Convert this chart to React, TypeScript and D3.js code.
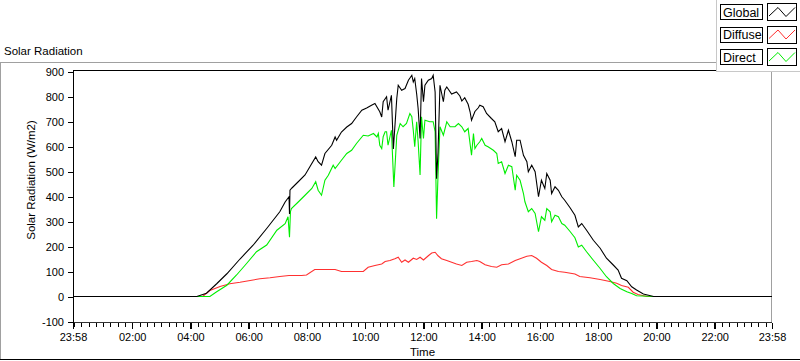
import React, { useEffect, useRef } from "react";
import * as d3 from "d3";

// ---- data ----
const yTicks = [-100, 0, 100, 200, 300, 400, 500, 600, 700, 800, 900];
const xMajorTicks = ["23:58", "02:00", "04:00", "06:00", "08:00", "10:00", "12:00", "14:00", "16:00", "18:00", "20:00", "22:00", "23:58"];
const seriesNames = ["Global", "Diffuse", "Direct"];

const globalData: [string, number][] = [
  ["00:00", 0], ["04:13", 0], ["04:33", 13], ["04:54", 51], ["05:15", 91], ["05:42", 150], ["06:09", 205],
  ["06:37", 272], ["07:04", 339], ["07:15", 378], ["07:23", 399], ["07:24", 330], ["07:25", 425], ["07:29", 434],
  ["07:42", 459], ["07:56", 486], ["08:06", 519], ["08:18", 558], ["08:23", 539], ["08:30", 525], ["08:37", 572],
  ["08:51", 605], ["08:58", 638], ["09:01", 625], ["09:11", 658], ["09:22", 678], ["09:32", 692], ["09:42", 718],
  ["09:53", 745], ["10:03", 754], ["10:13", 765], ["10:20", 772], ["10:30", 739], ["10:34", 718], ["10:37", 779],
  ["10:44", 799], ["10:47", 745], ["10:54", 805], ["10:58", 590], ["11:05", 792], ["11:08", 845], ["11:15", 825],
  ["11:22", 832], ["11:29", 865], ["11:36", 885], ["11:39", 858], ["11:42", 872], ["11:46", 810], ["11:49", 752],
  ["11:53", 632], ["11:56", 872], ["12:00", 779], ["12:03", 845], ["12:10", 865], ["12:17", 872], ["12:20", 885],
  ["12:24", 818], ["12:27", 471], ["12:30", 577], ["12:34", 845], ["12:41", 779], ["12:44", 825], ["12:48", 838],
  ["12:58", 810], ["13:08", 818], ["13:15", 802], ["13:19", 782], ["13:25", 795], ["13:32", 769], ["13:36", 739],
  ["13:39", 705], ["13:46", 740], ["13:53", 755], ["13:56", 765], ["14:03", 759], ["14:10", 732], ["14:20", 712],
  ["14:27", 699], ["14:34", 659], ["14:41", 672], ["14:48", 619], ["14:55", 665], ["15:02", 619], ["15:09", 559],
  ["15:12", 625], ["15:19", 625], ["15:26", 565], ["15:33", 539], ["15:36", 499], ["15:43", 525], ["15:50", 499],
  ["15:57", 399], ["16:03", 465], ["16:10", 432], ["16:14", 492], ["16:21", 465], ["16:24", 412], ["16:31", 439],
  ["16:38", 425], ["16:45", 399], ["16:51", 385], ["17:02", 355], ["17:12", 325], ["17:19", 278], ["17:26", 292],
  ["17:36", 265], ["17:50", 225], ["18:04", 193], ["18:17", 153], ["18:31", 126], ["18:41", 106], ["18:48", 73],
  ["18:59", 63], ["19:09", 39], ["19:19", 26], ["19:33", 10], ["19:54", 0], ["23:58", 0],
];

const diffuseData: [string, number][] = [
  ["00:00", 0], ["04:25", 0], ["04:40", 24], ["05:01", 40], ["05:21", 51], ["05:42", 57], ["06:03", 64],
  ["06:23", 71], ["06:44", 75], ["07:04", 80], ["07:23", 84], ["07:49", 84], ["07:59", 86], ["08:16", 108],
  ["08:58", 108], ["09:11", 100], ["09:32", 100], ["09:56", 100], ["10:06", 117], ["10:20", 124], ["10:34", 130],
  ["10:41", 140], ["10:51", 144], ["11:01", 151], ["11:08", 157], ["11:15", 137], ["11:22", 146], ["11:29", 137],
  ["11:39", 153], ["11:46", 148], ["11:53", 157], ["12:00", 146], ["12:10", 163], ["12:17", 174], ["12:24", 177],
  ["12:30", 163], ["12:37", 151], ["12:48", 144], ["12:58", 137], ["13:08", 130], ["13:19", 124], ["13:29", 137],
  ["13:39", 140], ["13:50", 144], ["13:56", 140], ["14:07", 127], ["14:20", 120], ["14:31", 117], ["14:41", 127],
  ["14:55", 130], ["15:09", 144], ["15:19", 151], ["15:33", 161], ["15:43", 164], ["15:53", 153], ["16:03", 137],
  ["16:14", 124], ["16:24", 108], ["16:38", 100], ["16:51", 97], ["17:12", 90], ["17:22", 80], ["17:43", 75],
  ["18:04", 68], ["18:24", 60], ["18:38", 53], ["18:48", 44], ["19:02", 37], ["19:12", 17], ["19:22", 8],
  ["19:40", 0], ["23:58", 0],
];

const directData: [string, number][] = [
  ["00:00", 0], ["04:40", 0], ["04:54", 19], ["05:15", 45], ["05:35", 86], ["05:56", 133], ["06:16", 179],
  ["06:37", 206], ["06:58", 265], ["07:15", 291], ["07:21", 319], ["07:24", 237], ["07:26", 340], ["07:28", 352],
  ["07:42", 378], ["07:56", 405], ["08:10", 432], ["08:18", 459], ["08:23", 425], ["08:30", 405], ["08:37", 465],
  ["08:44", 485], ["08:54", 525], ["08:58", 512], ["09:11", 545], ["09:22", 572], ["09:32", 585], ["09:42", 612],
  ["09:56", 645], ["10:06", 642], ["10:17", 652], ["10:24", 638], ["10:27", 652], ["10:30", 605], ["10:34", 592],
  ["10:37", 639], ["10:41", 659], ["10:44", 659], ["10:47", 605], ["10:54", 665], ["10:59", 438], ["11:05", 645],
  ["11:12", 692], ["11:18", 679], ["11:25", 692], ["11:32", 732], ["11:36", 719], ["11:39", 665], ["11:42", 599],
  ["11:46", 699], ["11:49", 619], ["11:53", 486], ["11:56", 719], ["12:00", 632], ["12:03", 705], ["12:13", 699],
  ["12:20", 699], ["12:24", 659], ["12:27", 311], ["12:30", 486], ["12:34", 679], ["12:41", 645], ["12:48", 699],
  ["12:55", 679], ["13:05", 679], ["13:12", 692], ["13:19", 679], ["13:25", 659], ["13:32", 672], ["13:39", 565],
  ["13:43", 652], ["13:46", 592], ["13:50", 605], ["13:53", 612], ["13:56", 619], ["14:00", 632], ["14:07", 605],
  ["14:13", 599], ["14:24", 585], ["14:31", 572], ["14:34", 532], ["14:41", 539], ["14:48", 492], ["14:55", 525],
  ["15:02", 519], ["15:09", 425], ["15:12", 485], ["15:19", 465], ["15:26", 412], ["15:29", 379], ["15:36", 339],
  ["15:43", 352], ["15:50", 332], ["15:57", 259], ["16:03", 319], ["16:10", 305], ["16:14", 352], ["16:21", 339],
  ["16:24", 299], ["16:31", 325], ["16:38", 319], ["16:45", 292], ["16:51", 285], ["17:02", 260], ["17:12", 235],
  ["17:19", 198], ["17:26", 205], ["17:36", 179], ["17:50", 145], ["18:04", 112], ["18:17", 79], ["18:31", 52],
  ["18:45", 32], ["18:59", 19], ["19:09", 12], ["19:19", 3], ["19:54", 0], ["23:58", 0],
];

const colors = { Global: "#000000", Diffuse: "#ff3030", Direct: "#00ee00" };

// ---- helpers ----
const START = -2; // 23:58 of the previous day, in minutes from midnight
const END = 23 * 60 + 58;
const toMin = (s: string) => {
  const [h, m] = s.split(":").map(Number);
  return h * 60 + m;
};
const majorMinutes = xMajorTicks.map((t, i) => (i === 0 ? START : toMin(t)));
const minorMinutes = d3.range(0, END, 15).filter((m) => !majorMinutes.includes(m));

const W = 800, H = 361;
const L = 73, R = 772, T = 71.5, B = 321.5;
const FONT = "'Liberation Sans', Arial, sans-serif";

export default function App() {
  const xAxisRef = useRef<SVGGElement>(null);
  const xMinorRef = useRef<SVGGElement>(null);
  const yAxisRef = useRef<SVGGElement>(null);

  const x = d3.scaleLinear().domain([START, END]).range([L, R]);
  const y = d3.scaleLinear().domain([-100, 900]).range([B, T]);

  const line = d3
    .line<[number, number]>()
    .x((d) => x(d[0]))
    .y((d) => y(d[1]));

  const toPts = (data: [string, number][]): [number, number][] => [
    [START, 0],
    ...data.map(([t, v]) => [toMin(t), v] as [number, number]),
  ];

  const series = [
    { name: "Diffuse", data: diffuseData },
    { name: "Direct", data: directData },
    { name: "Global", data: globalData },
  ];

  useEffect(() => {
    const yAx = d3
      .axisLeft(y)
      .tickValues(yTicks)
      .tickSize(5)
      .tickPadding(4)
      .tickFormat((d) => String(d));
    const gy = d3.select(yAxisRef.current!);
    gy.call(yAx);
    gy.select(".domain").remove();
    gy.selectAll("text").attr("font-family", FONT).attr("font-size", 11).attr("fill", "#000");

    const xAx = d3
      .axisBottom(x)
      .tickValues(majorMinutes)
      .tickSize(6)
      .tickPadding(5)
      .tickFormat((_d, i) => xMajorTicks[i]);
    const gx = d3.select(xAxisRef.current!);
    gx.call(xAx);
    gx.select(".domain").remove();
    gx.selectAll("line").attr("stroke-width", 1.5);
    gx.selectAll("text").attr("font-family", FONT).attr("font-size", 11).attr("fill", "#000");

    const xMin = d3.axisBottom(x).tickValues(minorMinutes).tickSize(4).tickFormat(() => "");
    const gm = d3.select(xMinorRef.current!);
    gm.call(xMin);
    gm.select(".domain").remove();
  }, []);

  const legendRows = [4, 26.5, 49];

  return (
    <svg
      width={W}
      height={H}
      style={{ position: "absolute", left: 0, top: 0, background: "#fff" }}
      shapeRendering="crispEdges"
    >
      <defs>
        <clipPath id="plotclip">
          <rect x={L} y={70} width={R - L} height={B - 70} />
        </clipPath>
      </defs>

      {/* panel frame */}
      <line x1={0} x2={717} y1={62.5} y2={62.5} stroke="#a0a0a0" />
      <line x1={0.5} x2={0.5} y1={62} y2={359} stroke="#a0a0a0" />
      <line x1={0} x2={800} y1={359.5} y2={359.5} stroke="#000" />

      <text x={4} y={55} fontFamily={FONT} fontSize={11.5} fill="#000">
        Solar Radiation
      </text>

      {/* plot frame */}
      <line x1={L} x2={R} y1={70.5} y2={70.5} stroke="#000" />
      <line x1={R - 0.5} x2={R - 0.5} y1={70} y2={B + 0.5} stroke="#a0a0a0" />
      <line x1={L} x2={R} y1={B + 0.5} y2={B + 0.5} stroke="#333" />
      <line x1={L + 0.5} x2={L + 0.5} y1={70} y2={B + 1} stroke="#000" />

      {/* series */}
      <g clipPath="url(#plotclip)">
        {series.map((s) => (
          <path
            key={s.name}
            d={line(toPts(s.data)) || ""}
            fill="none"
            stroke={(colors as any)[s.name]}
            strokeWidth={1.1}
            strokeLinejoin="miter"
            shapeRendering="auto"
          />
        ))}
      </g>

      <g ref={yAxisRef} transform={`translate(${L},0)`} />
      <g ref={xMinorRef} transform={`translate(0,${B + 1})`} />
      <g ref={xAxisRef} transform={`translate(0,${B + 1})`} />

      <text
        transform={`translate(35,180) rotate(-90)`}
        textAnchor="middle"
        fontFamily={FONT}
        fontSize={11.5}
        fill="#000"
      >
        Solar Radiation (W/m2)
      </text>
      <text x={(L + R) / 2} y={356} textAnchor="middle" fontFamily={FONT} fontSize={11.5} fill="#000">
        Time
      </text>

      {/* legend */}
      <rect x={717} y={0} width={83} height={72} fill="#fff" />
      <line x1={716.5} x2={716.5} y1={0} y2={72} stroke="#c8c8c8" />
      <line x1={717} x2={800} y1={71.5} y2={71.5} stroke="#c8c8c8" />
      {seriesNames.map((n, i) => {
        const ry = legendRows[i];
        const c = (colors as any)[n];
        const sx = 768;
        return (
          <g key={n}>
            <rect x={720.5} y={ry + 0.5} width={42} height={15} fill="#fff" stroke="#000" />
            <text x={723} y={ry + 12.5} fontFamily={FONT} fontSize={12.5} fill="#000">
              {n}
            </text>
            <rect x={767.5} y={ry - 0.5} width={29} height={17} fill="#fff" stroke="#000" />
            <polyline
              points={`${sx + 1},${ry + 12} ${sx + 10},${ry + 3.5} ${sx + 18},${ry + 12.5} ${sx + 27},${ry + 3.5}`}
              fill="none"
              stroke={c}
              shapeRendering="auto"
            />
          </g>
        );
      })}
    </svg>
  );
}
